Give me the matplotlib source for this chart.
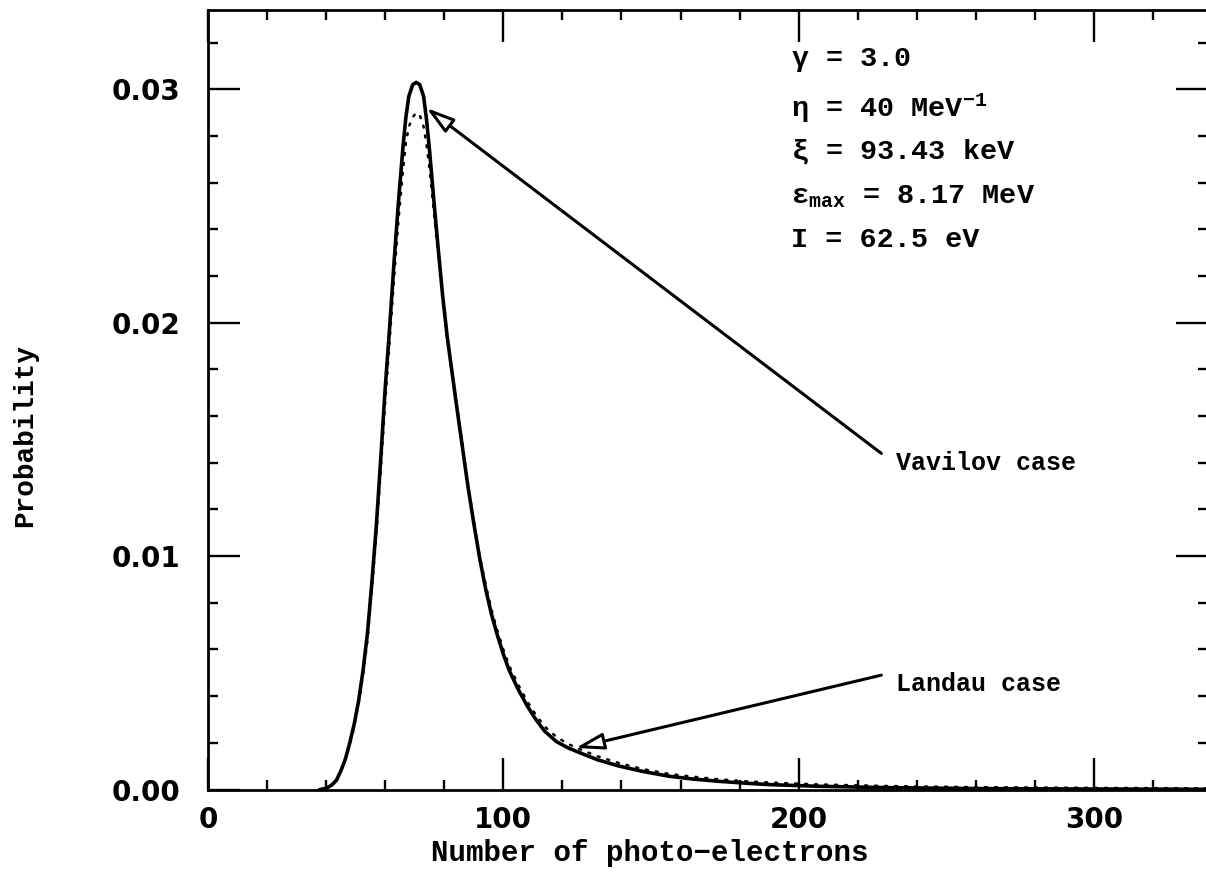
import numpy as np
import matplotlib
matplotlib.use('Agg')
from matplotlib import pyplot as plt
from matplotlib.ticker import MultipleLocator, FormatStrFormatter

# ---------------------------------------------------------------------------------------------------
# 데이터: 광전자 수에 따른 확률 (Vavilov / Landau), 그림에서 읽은 값
# ---------------------------------------------------------------------------------------------------
n_pe = [38, 40, 42, 43.5, 45, 46.5, 48, 49.5, 51, 52.5, 54, 55.5, 57, 58.5, 60, 61.5, 63, 64.5,
        66, 67, 68, 69.3, 70.5, 71.7, 73, 74, 75, 76.5, 78, 79.5, 81, 82.5, 84, 86, 88, 90,
        92, 94, 96, 98, 100, 102, 105, 108, 111, 114, 118, 122, 126, 132, 139, 147, 156,
        164, 173, 181, 190, 206, 230, 260, 300, 338]

vavilov = [0.0, 0.00005, 0.0002, 0.0004, 0.0008, 0.0013, 0.0020, 0.0028, 0.0038, 0.0051,
           0.0067, 0.0089, 0.0113, 0.0142, 0.0172, 0.0198, 0.0226, 0.0252, 0.0275, 0.0288,
           0.0297, 0.0302, 0.0303, 0.0302, 0.0297, 0.0287, 0.0274, 0.0252, 0.0231, 0.0211,
           0.0194, 0.0180, 0.0166, 0.0148, 0.0130, 0.0114, 0.0099, 0.0086, 0.0075, 0.0066,
           0.0058, 0.0051, 0.0043, 0.0036, 0.0030, 0.0025, 0.00205, 0.00178, 0.00157, 0.00127,
           0.00101, 0.00078, 0.00057, 0.00045, 0.00035, 0.00028, 0.00021, 0.00014, 0.00008,
           0.00004, 0.00002, 0.00001]

landau = [0.0, 0.00005, 0.0002, 0.0004, 0.0008, 0.0013, 0.0019, 0.0027, 0.0037, 0.0049,
          0.0064, 0.0086, 0.0109, 0.0137, 0.0166, 0.0192, 0.0219, 0.0244, 0.0265, 0.0277,
          0.0284, 0.0288, 0.0290, 0.0289, 0.0284, 0.0276, 0.0266, 0.0247, 0.0228, 0.0209,
          0.0193, 0.0180, 0.0167, 0.0149, 0.0131, 0.0115, 0.0100, 0.0088, 0.0077, 0.0068,
          0.0060, 0.0053, 0.0045, 0.0038, 0.0032, 0.0027, 0.00225, 0.00195, 0.00172, 0.00142,
          0.00114, 0.00088, 0.00067, 0.00055, 0.00044, 0.00036, 0.00030, 0.00022, 0.00015,
          0.00010, 0.00007, 0.00005]

params = [r'$\gamma$ = 3.0',
          r'$\eta$ = 40 MeV$^{-1}$',
          r'$\xi$ = 93.43 keV',
          r'$\epsilon_{max}$ = 8.17 MeV',
          'I = 62.5 eV']

vavilov_tip = (74.0, 0.0292)
vavilov_tail = (228.0, 0.0144)
landau_tip = (124.5, 0.00178)
landau_tail = (228.0, 0.0049)

plt.rcParams['font.family'] = ['DejaVu Sans']
plt.rcParams['font.weight'] = 'bold'
plt.rcParams['mathtext.fontset'] = 'custom'
plt.rcParams['mathtext.rm'] = 'Liberation Mono:bold'
plt.rcParams['mathtext.it'] = 'Liberation Mono:bold'
plt.rcParams['mathtext.bf'] = 'Liberation Mono:bold'
plt.rcParams['mathtext.default'] = 'rm'

mono = ['Liberation Mono', 'DejaVu Sans']

fig = plt.figure(figsize=(12.06, 8.80), dpi=100)
ax = fig.add_axes([208 / 1206, 90.5 / 880, 1000 / 1206, 779.5 / 880])

ax.plot(n_pe, vavilov, color='black', lw=2.6, solid_joinstyle='round')
ax.plot(n_pe, landau, color='black', lw=1.8, linestyle=(0, (0.8, 3.2)), dash_capstyle='round')

ax.set_xlim(0, 338.6)
ax.set_ylim(0, 0.0334)

ax.xaxis.set_major_locator(MultipleLocator(100))
ax.xaxis.set_minor_locator(MultipleLocator(20))
ax.yaxis.set_major_locator(MultipleLocator(0.01))
ax.yaxis.set_minor_locator(MultipleLocator(0.002))
ax.yaxis.set_major_formatter(FormatStrFormatter('%.2f'))

ax.tick_params(which='both', direction='in', top=True, right=True, width=1.7, colors='black')
ax.tick_params(which='major', length=23)
ax.tick_params(which='minor', length=7)
ax.tick_params(axis='y', which='major', pad=20, labelsize=20)
ax.tick_params(axis='x', which='major', pad=12, labelsize=20)
for lbl in ax.get_xticklabels() + ax.get_yticklabels():
    lbl.set_fontweight('bold')
for sp in ax.spines.values():
    sp.set_linewidth(2.0)

ax.set_xlabel('Number of photo\u2212electrons', family=mono, fontsize=21, fontweight='bold')
ax.xaxis.set_label_coords(0.442, -0.064)
ax.set_ylabel('Probability', family=mono, fontsize=20, fontweight='bold', va='center')
ax.yaxis.set_label_coords(-0.183, 0.4535)

# 파라미터 텍스트
ys = [0.936, 0.874, 0.818, 0.760, 0.705]
for txt, yy in zip(params, ys):
    ax.text(0.583, yy, txt, transform=ax.transAxes, family=mono, fontsize=20.5,
            fontweight='bold', ha='left', va='center')

arrow = dict(arrowstyle='-|>,head_length=0.85,head_width=0.25', fc='white', ec='black',
             lw=2.2, shrinkA=0, shrinkB=0, mutation_scale=20)
ax.annotate('', xy=vavilov_tip, xytext=vavilov_tail, arrowprops=arrow)
ax.annotate('', xy=landau_tip, xytext=landau_tail, arrowprops=arrow)
ax.text(vavilov_tail[0] + 5, vavilov_tail[1] - 0.0004, 'Vavilov case', family=mono,
        fontsize=18, fontweight='bold', ha='left', va='center')
ax.text(landau_tail[0] + 5, landau_tail[1] - 0.0004, 'Landau case', family=mono,
        fontsize=18, fontweight='bold', ha='left', va='center')

fig.savefig('out.png', dpi=100)
